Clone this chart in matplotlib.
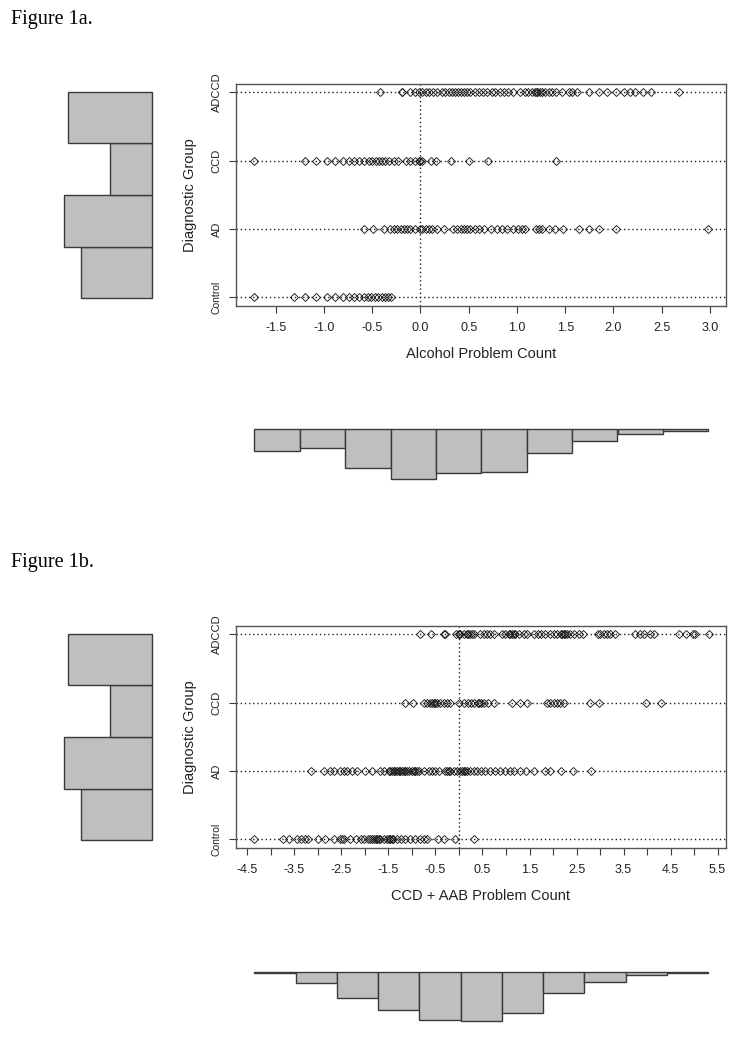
import numpy as np
import matplotlib
matplotlib.use('Agg')
import matplotlib.pyplot as plt

# ---------------- data ----------------
groups = ['Control', 'AD', 'CCD', 'ADCCD']
group_counts = [71, 88, 42, 84]

alc_control = [-1.727, -1.313, -1.202, -1.078, -0.974, -0.891, -0.801, -0.743, -0.691,
               -0.639, -0.587, -0.542, -0.508, -0.473, -0.439, -0.404, -0.370, -0.335, -0.301]
alc_ad = [-0.587, -0.49, -0.373, -0.318, -0.276, -0.242, -0.207, -0.173, -0.138, -0.104,
          -0.052, -0.007, 0.017, 0.052, 0.086, 0.121, 0.173, 0.242, 0.339, 0.38, 0.415,
          0.449, 0.484, 0.518, 0.563, 0.604, 0.656, 0.732, 0.794, 0.846, 0.898, 0.96,
          1.009, 1.054, 1.088, 1.202, 1.226, 1.261, 1.33, 1.399, 1.475, 1.641, 1.744,
          1.848, 2.028, 2.978]
alc_ccd = [-1.727, -1.202, -1.078, -0.974, -0.891, -0.801, -0.743, -0.691, -0.639, -0.587,
           -0.535, -0.501, -0.466, -0.432, -0.397, -0.363, -0.328, -0.276, -0.231, -0.145,
           -0.104, -0.059, -0.017, 0.0, 0.017, 0.104, 0.162, 0.311, 0.504, 0.701, 1.409]
alc_adccd = [-0.418, -0.19, -0.19, -0.104, -0.052, -0.017, 0.017, 0.052, 0.086, 0.128,
             0.173, 0.218, 0.259, 0.294, 0.328, 0.356, 0.39, 0.421, 0.449, 0.484, 0.518,
             0.563, 0.604, 0.646, 0.691, 0.736, 0.777, 0.822, 0.864, 0.908, 0.96, 1.036,
             1.078, 1.116, 1.157, 1.185, 1.209, 1.209, 1.209, 1.237, 1.261, 1.295, 1.33,
             1.364, 1.409, 1.468, 1.537, 1.572, 1.623, 1.744, 1.848, 1.934, 2.031, 2.107,
             2.169, 2.228, 2.304, 2.39, 2.677]
alc_hist_counts = [15, 13, 27, 35, 31, 30, 17, 8, 3, 1]
alc_bin_edges = [-2.0, -1.5, -1.0, -0.5, 0.0, 0.5, 1.0, 1.5, 2.0, 2.5, 3.0]
alc_ticks = [-1.5, -1.0, -0.5, 0.0, 0.5, 1.0, 1.5, 2.0, 2.5, 3.0]

ccd_control = [-4.352, -3.749, -3.621, -3.444, -3.359, -3.267, -3.218, -3.005, -2.842,
               -2.665, -2.523, -2.452, -2.310, -2.183, -2.084, -2.013, -1.942, -1.885,
               -1.814, -1.743, -1.673, -1.602, -1.531, -1.460, -1.403, -1.318, -1.233,
               -1.141, -1.035, -0.928, -0.836, -0.751, -0.680, -0.454, -0.312, -0.078, 0.312,
               -2.48, -1.85, -1.77, -1.70, -1.49, -1.43]
ccd_ad = [-3.140, -2.877, -2.736, -2.665, -2.523, -2.452, -2.381, -2.275, -2.169, -1.991,
          -1.850, -1.673, -1.588, -1.495, -1.425, -1.354, -1.283, -1.212, -1.141, -1.070,
          -0.999, -0.928, -0.857, -0.751, -0.645, -0.574, -0.503, -0.432, -0.255, -0.184,
          -0.113, -0.043, 0.028, 0.099, 0.170, 0.241, 0.312, 0.382, 0.468, 0.560, 0.666,
          0.773, 0.879, 0.985, 1.091, 1.162, 1.290, 1.432, 1.602, 1.836, 1.928, 2.169,
          2.417, 2.806,
          -1.46, -1.39, -1.32, -1.25, -1.18, -1.11, -0.96, -0.89, -0.29, -0.22, 0.06, 0.13]
ccd_ccd = [-1.141, -0.978, -0.751, -0.680, -0.609, -0.539, -0.468, -0.397, -0.326, -0.255,
           -0.184, -0.007, 0.099, 0.184, 0.255, 0.326, 0.397, 0.468, 0.539, 0.609, 0.737,
           1.127, 1.304, 1.446, 1.871, 1.942, 2.013, 2.084, 2.155, 2.225, 2.792, 2.970,
           3.983, 4.295, -0.57, -0.50, 0.43]
ccd_adccd = [-0.836, -0.595, -0.326, -0.291, -0.057, -0.007, 0.028, 0.099, 0.170, 0.241,
             0.312, 0.439, 0.524, 0.595, 0.666, 0.737, 0.914, 0.985, 1.056, 1.127, 1.198,
             1.269, 1.375, 1.446, 1.602, 1.673, 1.744, 1.836, 1.928, 2.013, 2.084, 2.169,
             2.225, 2.296, 2.367, 2.452, 2.544, 2.636, 2.948, 3.005, 3.076, 3.147, 3.218,
             3.324, 3.749, 3.841, 3.926, 4.068, 4.153, 4.671, 4.834, 4.975, 5.025, 5.308,
             0.0, 0.2, 0.27, 1.09, 1.16, 2.19, 2.26]
ccd_hist_counts = [1, 8, 19, 28, 35, 36, 30, 15, 7, 2, 1]
ccd_bin_edges = [-5.0, -4.0, -3.0, -2.0, -1.0, 0.0, 1.0, 2.0, 3.0, 4.0, 5.0, 6.0]
ccd_major_ticks = [-4.5, -3.5, -2.5, -1.5, -0.5, 0.5, 1.5, 2.5, 3.5, 4.5, 5.5]
ccd_minor_ticks = [-4.0, -3.0, -2.0, -1.0, 0.0, 1.0, 2.0, 3.0, 4.0, 5.0]

# ---------------- layout ----------------
W, H = 734, 1050
fig = plt.figure(figsize=(W / 100, H / 100), dpi=100)
fig.patch.set_facecolor('white')

SANS = ['Liberation Sans', 'DejaVu Sans']
SERIF = ['Liberation Serif', 'DejaVu Serif']
EDGE = '#3a3a3a'
FILL = '#bfbfbf'


def px_rect(x0, y0, x1, y1):
    return [x0 / W, 1 - y1 / H, (x1 - x0) / W, (y1 - y0) / H]


def fx(x):
    return x / W


def fy(y):
    return 1 - y / H


def scatter_panel(dy, rows, xlim, major, minor, xlabel):
    ax = fig.add_axes(px_rect(235.7, 84 + dy, 726, 305.7 + dy))
    ax.set_xlim(*xlim)
    ax.set_ylim(0.88, 4.12)
    for i, vals in enumerate(rows):
        y = i + 1
        ax.axhline(y, color='#222222', lw=1.0, ls=(0, (1, 2)), zorder=1)
        ax.plot(vals, [y] * len(vals), ls='none', marker='D', ms=3.6,
                mfc='none', mec='#1e1e1e', mew=0.65, zorder=3, clip_on=False)
    ax.axvline(0, color='#222222', lw=1.0, ls=(0, (1, 2)), zorder=1)
    ax.set_xticks(major)
    ax.set_xticklabels([f'{v:.1f}' for v in major], fontsize=9, family=SANS,
                       color='#222222')
    if minor:
        ax.set_xticks(minor, minor=True)
    ax.set_yticks([1, 2, 3, 4])
    ax.set_yticklabels(groups, rotation=90, va='center', family=SANS,
                       fontsize=8, color='#222222')
    ax.get_yticklabels()[0].set_fontsize(7.5)
    ax.tick_params(axis='both', which='both', direction='out', length=5,
                   width=0.8, color=EDGE)
    ax.tick_params(axis='x', pad=7)
    ax.tick_params(axis='y', pad=5)
    for s in ax.spines.values():
        s.set_color('#555555')
        s.set_linewidth(1.0)
    fig.text(fx(480.85), fy(354 + dy), xlabel, ha='center', va='center',
             fontsize=10.5, family=SANS, color='#222222')
    fig.text(fx(190), fy(195 + dy), 'Diagnostic Group', ha='center', va='center',
             rotation=90, fontsize=10.5, family=SANS, color='#222222')
    return ax


def left_hist(dy):
    ax = fig.add_axes(px_rect(52.3, 91.7 + dy, 152.3, 298.3 + dy))
    ax.barh([0.5, 1.5, 2.5, 3.5], group_counts, height=1.0, left=0,
            color=FILL, edgecolor=EDGE, linewidth=1.0, clip_on=False)
    ax.set_xlim(100, 0)
    ax.set_ylim(0, 4)
    ax.axis('off')


def bottom_hist(top, counts, edges, scale):
    h = 60
    ax = fig.add_axes(px_rect(254.3, top, 708.3, top + h))
    edges = np.asarray(edges, dtype=float)
    ax.bar(edges[:-1], counts, width=np.diff(edges), align='edge', bottom=0,
           color=FILL, edgecolor=EDGE, linewidth=1.0, clip_on=False)
    ax.set_xlim(edges[0], edges[-1])
    ax.set_ylim(h / scale, 0)
    ax.axis('off')


# Figure 1a
fig.text(fx(11), fy(24), 'Figure 1a.', ha='left', va='baseline',
         fontsize=14.5, family=SERIF, color='black')
scatter_panel(0, [alc_control, alc_ad, alc_ccd, alc_adccd], (-1.915, 3.166),
              alc_ticks, None, 'Alcohol Problem Count')
left_hist(0)
bottom_hist(429.3, alc_hist_counts, alc_bin_edges, 1.42)

# Figure 1b
fig.text(fx(11), fy(567), 'Figure 1b.', ha='left', va='baseline',
         fontsize=14.5, family=SERIF, color='black')
scatter_panel(542, [ccd_control, ccd_ad, ccd_ccd, ccd_adccd], (-4.75, 5.68),
              ccd_major_ticks, ccd_minor_ticks, 'CCD + AAB Problem Count')
left_hist(542)
bottom_hist(972, ccd_hist_counts, ccd_bin_edges, 1.37)

fig.savefig('out.png', dpi=100, facecolor='white')
